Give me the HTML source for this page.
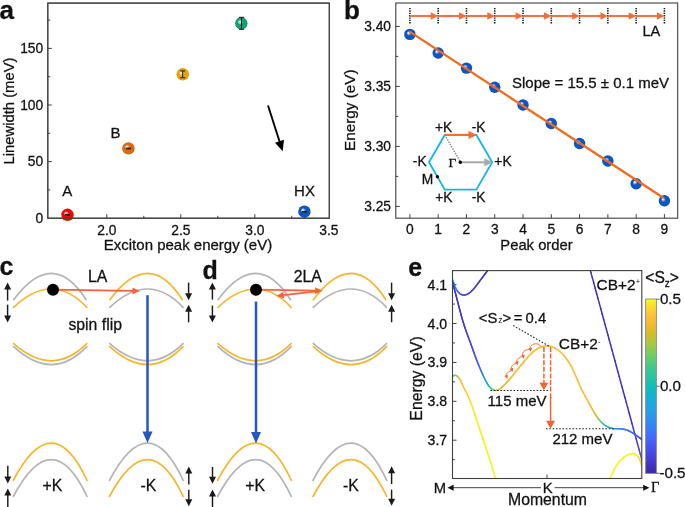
<!DOCTYPE html>
<html lang="en"><head><meta charset="utf-8"><title>Figure</title>
<style>
html,body{margin:0;padding:0;background:#fff;}
body{width:685px;height:507px;overflow:hidden;font-family:'Liberation Sans', Arial, Helvetica, sans-serif;}
svg{display:block;}
text{fill:#111;stroke:#111;stroke-width:0.28px;}
</style></head><body>
<svg width="685" height="507" viewBox="0 0 685 507">
<rect width="685" height="507" fill="#fff"/>
<defs>
<radialGradient id="gR" cx="0.5" cy="0.5" r="0.5" fx="0.35" fy="0.35"><stop offset="0" stop-color="#ffffff"/><stop offset="0.05" stop-color="#ffffff" stop-opacity="1"/><stop offset="0.42" stop-color="#ff0000"/><stop offset="0.85" stop-color="#ff0000"/><stop offset="1" stop-color="#e80000"/></radialGradient>
<radialGradient id="gO" cx="0.5" cy="0.5" r="0.5" fx="0.35" fy="0.35"><stop offset="0" stop-color="#ffffff"/><stop offset="0.05" stop-color="#ffffff" stop-opacity="1"/><stop offset="0.42" stop-color="#d96a10"/><stop offset="0.85" stop-color="#d96a10"/><stop offset="1" stop-color="#c05a08"/></radialGradient>
<radialGradient id="gY" cx="0.5" cy="0.5" r="0.5" fx="0.35" fy="0.35"><stop offset="0" stop-color="#ffffff"/><stop offset="0.05" stop-color="#ffffff" stop-opacity="1"/><stop offset="0.42" stop-color="#e9a204"/><stop offset="0.85" stop-color="#e9a204"/><stop offset="1" stop-color="#d89200"/></radialGradient>
<radialGradient id="gG" cx="0.5" cy="0.5" r="0.5" fx="0.35" fy="0.35"><stop offset="0" stop-color="#ffffff"/><stop offset="0.05" stop-color="#ffffff" stop-opacity="1"/><stop offset="0.42" stop-color="#10a272"/><stop offset="0.85" stop-color="#10a272"/><stop offset="1" stop-color="#0a8e62"/></radialGradient>
<radialGradient id="gB" cx="0.5" cy="0.5" r="0.5" fx="0.35" fy="0.35"><stop offset="0" stop-color="#ffffff"/><stop offset="0.05" stop-color="#ffffff" stop-opacity="1"/><stop offset="0.42" stop-color="#0a56c6"/><stop offset="0.85" stop-color="#0a56c6"/><stop offset="1" stop-color="#0848ae"/></radialGradient>
<linearGradient id="cbar" x1="0" y1="1" x2="0" y2="0">
<stop offset="0.0000" stop-color="#3e26a8"/>
<stop offset="0.0500" stop-color="#4433c4"/>
<stop offset="0.1000" stop-color="#4743dc"/>
<stop offset="0.1500" stop-color="#4853f0"/>
<stop offset="0.2000" stop-color="#4367fd"/>
<stop offset="0.2500" stop-color="#377cfc"/>
<stop offset="0.3000" stop-color="#2e8cf3"/>
<stop offset="0.3500" stop-color="#269de8"/>
<stop offset="0.4000" stop-color="#1caadf"/>
<stop offset="0.4500" stop-color="#0fb4cf"/>
<stop offset="0.5000" stop-color="#12beb9"/>
<stop offset="0.5500" stop-color="#27c4a5"/>
<stop offset="0.6000" stop-color="#3bc892"/>
<stop offset="0.6500" stop-color="#5acb76"/>
<stop offset="0.7000" stop-color="#81cc59"/>
<stop offset="0.7500" stop-color="#adc73f"/>
<stop offset="0.8000" stop-color="#d2bd27"/>
<stop offset="0.8500" stop-color="#f1b930"/>
<stop offset="0.9000" stop-color="#fdbe3d"/>
<stop offset="0.9500" stop-color="#fbd72e"/>
<stop offset="1.0000" stop-color="#f9fb15"/>
</linearGradient>
</defs>
<rect x="47.8" y="3.1" width="281.5" height="215.1" fill="none" stroke="#404040" stroke-width="1.1"/>
<text x="-0.5" y="19.2" font-size="26" text-anchor="start" font-family='"Liberation Sans", Arial, Helvetica, sans-serif' font-weight="bold">a</text>
<text x="43.2" y="223" font-size="13.8" text-anchor="end" font-family='"Liberation Sans", Arial, Helvetica, sans-serif'>0</text>
<line x1="47.8" y1="161.6" x2="51.8" y2="161.6" stroke="#404040" stroke-width="1"/>
<text x="43.2" y="166.4" font-size="13.8" text-anchor="end" font-family='"Liberation Sans", Arial, Helvetica, sans-serif'>50</text>
<line x1="47.8" y1="105" x2="51.8" y2="105" stroke="#404040" stroke-width="1"/>
<text x="43.2" y="109.8" font-size="13.8" text-anchor="end" font-family='"Liberation Sans", Arial, Helvetica, sans-serif'>100</text>
<line x1="47.8" y1="48.4" x2="51.8" y2="48.4" stroke="#404040" stroke-width="1"/>
<text x="43.2" y="53.2" font-size="13.8" text-anchor="end" font-family='"Liberation Sans", Arial, Helvetica, sans-serif'>150</text>
<line x1="47.8" y1="189.9" x2="50.199999999999996" y2="189.9" stroke="#404040" stroke-width="1"/>
<line x1="47.8" y1="133.3" x2="50.199999999999996" y2="133.3" stroke="#404040" stroke-width="1"/>
<line x1="47.8" y1="76.7" x2="50.199999999999996" y2="76.7" stroke="#404040" stroke-width="1"/>
<line x1="47.8" y1="20.1" x2="50.199999999999996" y2="20.1" stroke="#404040" stroke-width="1"/>
<line x1="106.8" y1="218.2" x2="106.8" y2="214.2" stroke="#404040" stroke-width="1"/>
<text x="106.8" y="234.5" font-size="13.8" text-anchor="middle" font-family='"Liberation Sans", Arial, Helvetica, sans-serif'>2.0</text>
<line x1="180.8" y1="218.2" x2="180.8" y2="214.2" stroke="#404040" stroke-width="1"/>
<text x="180.8" y="234.5" font-size="13.8" text-anchor="middle" font-family='"Liberation Sans", Arial, Helvetica, sans-serif'>2.5</text>
<line x1="254.8" y1="218.2" x2="254.8" y2="214.2" stroke="#404040" stroke-width="1"/>
<text x="254.8" y="234.5" font-size="13.8" text-anchor="middle" font-family='"Liberation Sans", Arial, Helvetica, sans-serif'>3.0</text>
<text x="328.8" y="234.5" font-size="13.8" text-anchor="middle" font-family='"Liberation Sans", Arial, Helvetica, sans-serif'>3.5</text>
<line x1="69.8" y1="218.2" x2="69.8" y2="215.79999999999998" stroke="#404040" stroke-width="1"/>
<line x1="143.8" y1="218.2" x2="143.8" y2="215.79999999999998" stroke="#404040" stroke-width="1"/>
<line x1="217.8" y1="218.2" x2="217.8" y2="215.79999999999998" stroke="#404040" stroke-width="1"/>
<line x1="291.8" y1="218.2" x2="291.8" y2="215.79999999999998" stroke="#404040" stroke-width="1"/>
<text transform="translate(14.2 111) rotate(-90)" font-size="14.8" text-anchor="middle" font-family='"Liberation Sans", Arial, Helvetica, sans-serif'>Linewidth (meV)</text>
<text x="188" y="250" font-size="15.0" text-anchor="middle" font-family='"Liberation Sans", Arial, Helvetica, sans-serif'>Exciton peak energy (eV)</text>
<circle cx="67.5" cy="214.8" r="6.2" fill="url(#gR)"/>
<circle cx="128.4" cy="148.4" r="6.2" fill="url(#gO)"/>
<circle cx="182.75" cy="74.3" r="6.2" fill="url(#gY)"/>
<circle cx="241.3" cy="23.3" r="6.2" fill="url(#gG)"/>
<circle cx="304.4" cy="211.7" r="6.2" fill="url(#gB)"/>
<path d="M67.5 214.45V215.15M65 214.45H70M65 215.15H70" stroke="#1a1a1a" stroke-width="1.0" fill="none"/>
<path d="M128.4 148.1V148.9M125.9 148.1H130.9M125.9 148.9H130.9" stroke="#1a1a1a" stroke-width="1.0" fill="none"/>
<path d="M182.7 70.9V77.7M180.2 70.9H185.2M180.2 77.7H185.2" stroke="#1a1a1a" stroke-width="1.0" fill="none"/>
<path d="M241.5 17.3V29.3M238.9 17.3H244.1M238.9 29.3H244.1" stroke="#1a1a1a" stroke-width="1.0" fill="none"/>
<path d="M304.5 211.5V212.1M302 211.5H307M302 212.1H307" stroke="#1a1a1a" stroke-width="1.0" fill="none"/>
<rect x="47.8" y="3.1" width="281.5" height="215.1" fill="none" stroke="#404040" stroke-width="1.1"/>
<text x="67.3" y="195.7" font-size="15" text-anchor="middle" font-family='"Liberation Sans", Arial, Helvetica, sans-serif'>A</text>
<text x="115.5" y="137.6" font-size="15" text-anchor="middle" font-family='"Liberation Sans", Arial, Helvetica, sans-serif'>B</text>
<text x="304.5" y="195.7" font-size="15" text-anchor="middle" font-family='"Liberation Sans", Arial, Helvetica, sans-serif'>HX</text>
<line x1="268" y1="105.5" x2="279.64" y2="141.68" stroke="#000" stroke-width="1.9"/>
<polygon points="282.7,151.2 275.01,142.64 283.96,139.77" fill="#000"/>
<rect x="395.8" y="3.0" width="281.9" height="215.2" fill="none" stroke="#404040" stroke-width="1.1"/>
<text x="344" y="19.2" font-size="26" text-anchor="start" font-family='"Liberation Sans", Arial, Helvetica, sans-serif' font-weight="bold">b</text>
<line x1="395.8" y1="26.4" x2="399.8" y2="26.4" stroke="#404040" stroke-width="1"/>
<text x="391" y="31.2" font-size="13.8" text-anchor="end" font-family='"Liberation Sans", Arial, Helvetica, sans-serif'>3.40</text>
<line x1="395.8" y1="86.4" x2="399.8" y2="86.4" stroke="#404040" stroke-width="1"/>
<text x="391" y="91.2" font-size="13.8" text-anchor="end" font-family='"Liberation Sans", Arial, Helvetica, sans-serif'>3.35</text>
<line x1="395.8" y1="146.4" x2="399.8" y2="146.4" stroke="#404040" stroke-width="1"/>
<text x="391" y="151.2" font-size="13.8" text-anchor="end" font-family='"Liberation Sans", Arial, Helvetica, sans-serif'>3.30</text>
<line x1="395.8" y1="206.4" x2="399.8" y2="206.4" stroke="#404040" stroke-width="1"/>
<text x="391" y="211.2" font-size="13.8" text-anchor="end" font-family='"Liberation Sans", Arial, Helvetica, sans-serif'>3.25</text>
<line x1="395.8" y1="56.4" x2="398.2" y2="56.4" stroke="#404040" stroke-width="1"/>
<line x1="395.8" y1="116.4" x2="398.2" y2="116.4" stroke="#404040" stroke-width="1"/>
<line x1="395.8" y1="176.4" x2="398.2" y2="176.4" stroke="#404040" stroke-width="1"/>
<line x1="409.9" y1="218.2" x2="409.9" y2="214.2" stroke="#404040" stroke-width="1"/>
<text x="409.9" y="234.3" font-size="13.8" text-anchor="middle" font-family='"Liberation Sans", Arial, Helvetica, sans-serif'>0</text>
<line x1="438.18" y1="218.2" x2="438.18" y2="214.2" stroke="#404040" stroke-width="1"/>
<text x="438.18" y="234.3" font-size="13.8" text-anchor="middle" font-family='"Liberation Sans", Arial, Helvetica, sans-serif'>1</text>
<line x1="466.46" y1="218.2" x2="466.46" y2="214.2" stroke="#404040" stroke-width="1"/>
<text x="466.46" y="234.3" font-size="13.8" text-anchor="middle" font-family='"Liberation Sans", Arial, Helvetica, sans-serif'>2</text>
<line x1="494.74" y1="218.2" x2="494.74" y2="214.2" stroke="#404040" stroke-width="1"/>
<text x="494.74" y="234.3" font-size="13.8" text-anchor="middle" font-family='"Liberation Sans", Arial, Helvetica, sans-serif'>3</text>
<line x1="523.02" y1="218.2" x2="523.02" y2="214.2" stroke="#404040" stroke-width="1"/>
<text x="523.02" y="234.3" font-size="13.8" text-anchor="middle" font-family='"Liberation Sans", Arial, Helvetica, sans-serif'>4</text>
<line x1="551.3" y1="218.2" x2="551.3" y2="214.2" stroke="#404040" stroke-width="1"/>
<text x="551.3" y="234.3" font-size="13.8" text-anchor="middle" font-family='"Liberation Sans", Arial, Helvetica, sans-serif'>5</text>
<line x1="579.58" y1="218.2" x2="579.58" y2="214.2" stroke="#404040" stroke-width="1"/>
<text x="579.58" y="234.3" font-size="13.8" text-anchor="middle" font-family='"Liberation Sans", Arial, Helvetica, sans-serif'>6</text>
<line x1="607.86" y1="218.2" x2="607.86" y2="214.2" stroke="#404040" stroke-width="1"/>
<text x="607.86" y="234.3" font-size="13.8" text-anchor="middle" font-family='"Liberation Sans", Arial, Helvetica, sans-serif'>7</text>
<line x1="636.14" y1="218.2" x2="636.14" y2="214.2" stroke="#404040" stroke-width="1"/>
<text x="636.14" y="234.3" font-size="13.8" text-anchor="middle" font-family='"Liberation Sans", Arial, Helvetica, sans-serif'>8</text>
<line x1="664.42" y1="218.2" x2="664.42" y2="214.2" stroke="#404040" stroke-width="1"/>
<text x="664.42" y="234.3" font-size="13.8" text-anchor="middle" font-family='"Liberation Sans", Arial, Helvetica, sans-serif'>9</text>
<text transform="translate(354.8 110.2) rotate(-90)" font-size="15.3" text-anchor="middle" font-family='"Liberation Sans", Arial, Helvetica, sans-serif'>Energy (eV)</text>
<text x="536.5" y="250" font-size="14.8" text-anchor="middle" font-family='"Liberation Sans", Arial, Helvetica, sans-serif'>Peak order</text>
<line x1="409.9" y1="8" x2="409.9" y2="24.2" stroke="#1a1a1a" stroke-width="1.6" stroke-dasharray="1.35 1.0"/>
<line x1="438.18" y1="8" x2="438.18" y2="24.2" stroke="#1a1a1a" stroke-width="1.6" stroke-dasharray="1.35 1.0"/>
<line x1="466.46" y1="8" x2="466.46" y2="24.2" stroke="#1a1a1a" stroke-width="1.6" stroke-dasharray="1.35 1.0"/>
<line x1="494.74" y1="8" x2="494.74" y2="24.2" stroke="#1a1a1a" stroke-width="1.6" stroke-dasharray="1.35 1.0"/>
<line x1="523.02" y1="8" x2="523.02" y2="24.2" stroke="#1a1a1a" stroke-width="1.6" stroke-dasharray="1.35 1.0"/>
<line x1="551.3" y1="8" x2="551.3" y2="24.2" stroke="#1a1a1a" stroke-width="1.6" stroke-dasharray="1.35 1.0"/>
<line x1="579.58" y1="8" x2="579.58" y2="24.2" stroke="#1a1a1a" stroke-width="1.6" stroke-dasharray="1.35 1.0"/>
<line x1="607.86" y1="8" x2="607.86" y2="24.2" stroke="#1a1a1a" stroke-width="1.6" stroke-dasharray="1.35 1.0"/>
<line x1="636.14" y1="8" x2="636.14" y2="24.2" stroke="#1a1a1a" stroke-width="1.6" stroke-dasharray="1.35 1.0"/>
<line x1="664.42" y1="8" x2="664.42" y2="24.2" stroke="#1a1a1a" stroke-width="1.6" stroke-dasharray="1.35 1.0"/>
<line x1="409.9" y1="16" x2="431.28" y2="16" stroke="#f96a34" stroke-width="1.9"/>
<polygon points="438.18,16 430.78,19.8 430.78,12.2" fill="#f96a34"/>
<line x1="438.18" y1="16" x2="459.56" y2="16" stroke="#f96a34" stroke-width="1.9"/>
<polygon points="466.46,16 459.06,19.8 459.06,12.2" fill="#f96a34"/>
<line x1="466.46" y1="16" x2="487.84" y2="16" stroke="#f96a34" stroke-width="1.9"/>
<polygon points="494.74,16 487.34,19.8 487.34,12.2" fill="#f96a34"/>
<line x1="494.74" y1="16" x2="516.12" y2="16" stroke="#f96a34" stroke-width="1.9"/>
<polygon points="523.02,16 515.62,19.8 515.62,12.2" fill="#f96a34"/>
<line x1="523.02" y1="16" x2="544.4" y2="16" stroke="#f96a34" stroke-width="1.9"/>
<polygon points="551.3,16 543.9,19.8 543.9,12.2" fill="#f96a34"/>
<line x1="551.3" y1="16" x2="572.68" y2="16" stroke="#f96a34" stroke-width="1.9"/>
<polygon points="579.58,16 572.18,19.8 572.18,12.2" fill="#f96a34"/>
<line x1="579.58" y1="16" x2="600.96" y2="16" stroke="#f96a34" stroke-width="1.9"/>
<polygon points="607.86,16 600.46,19.8 600.46,12.2" fill="#f96a34"/>
<line x1="607.86" y1="16" x2="629.24" y2="16" stroke="#f96a34" stroke-width="1.9"/>
<polygon points="636.14,16 628.74,19.8 628.74,12.2" fill="#f96a34"/>
<line x1="636.14" y1="16" x2="657.52" y2="16" stroke="#f96a34" stroke-width="1.9"/>
<polygon points="664.42,16 657.02,19.8 657.02,12.2" fill="#f96a34"/>
<text x="651.4" y="36" font-size="14.6" text-anchor="middle" font-family='"Liberation Sans", Arial, Helvetica, sans-serif'>LA</text>
<text x="590.5" y="88" font-size="15" text-anchor="middle" font-family='"Liberation Sans", Arial, Helvetica, sans-serif'>Slope = 15.5 ± 0.1 meV</text>
<circle cx="409.9" cy="34.4" r="5.7" fill="url(#gB)"/>
<circle cx="438.18" cy="53" r="5.7" fill="url(#gB)"/>
<circle cx="466.46" cy="68.1" r="5.7" fill="url(#gB)"/>
<circle cx="494.74" cy="87.2" r="5.7" fill="url(#gB)"/>
<circle cx="523.02" cy="105" r="5.7" fill="url(#gB)"/>
<circle cx="551.3" cy="123.5" r="5.7" fill="url(#gB)"/>
<circle cx="579.58" cy="143.5" r="5.7" fill="url(#gB)"/>
<circle cx="607.86" cy="161" r="5.7" fill="url(#gB)"/>
<circle cx="636.14" cy="183.7" r="5.7" fill="url(#gB)"/>
<circle cx="664.42" cy="200.7" r="5.7" fill="url(#gB)"/>
<line x1="409.6" y1="31.6" x2="663.7" y2="198" stroke="#f26a1c" stroke-width="2.3" stroke-linecap="butt"/>
<polygon points="492.2,162.3 476.4,134.93 444.8,134.93 429,162.3 444.8,189.67 476.4,189.67" fill="none" stroke="#12b6ee" stroke-width="1.8"/>
<line x1="444.8" y1="134.93" x2="460.6" y2="162.3" stroke="#8a8a8a" stroke-width="1.5" stroke-dasharray="1.4 1.2"/>
<line x1="460.6" y1="162.3" x2="484.8" y2="162.3" stroke="#a8a8a8" stroke-width="2.0"/>
<polygon points="492.7,162.3 484.3,166.3 484.3,158.3" fill="#a8a8a8"/>
<line x1="444.8" y1="134.93" x2="469" y2="134.93" stroke="#f96a34" stroke-width="2.2"/>
<polygon points="476.9,134.93 468.5,138.93 468.5,130.93" fill="#f96a34"/>
<circle cx="460.3" cy="162.3" r="1.7" fill="#000"/>
<circle cx="437.4" cy="176.8" r="1.7" fill="#000"/>
<text x="443.6" y="132.2" font-size="13.8" text-anchor="middle" font-family='"Liberation Sans", Arial, Helvetica, sans-serif'>+K</text>
<text x="478.6" y="132.2" font-size="13.8" text-anchor="middle" font-family='"Liberation Sans", Arial, Helvetica, sans-serif'>-K</text>
<text x="419.7" y="166.4" font-size="13.8" text-anchor="middle" font-family='"Liberation Sans", Arial, Helvetica, sans-serif'>-K</text>
<text x="503" y="166.4" font-size="13.8" text-anchor="middle" font-family='"Liberation Sans", Arial, Helvetica, sans-serif'>+K</text>
<text x="443.8" y="202.4" font-size="13.8" text-anchor="middle" font-family='"Liberation Sans", Arial, Helvetica, sans-serif'>+K</text>
<text x="478.6" y="202.4" font-size="13.8" text-anchor="middle" font-family='"Liberation Sans", Arial, Helvetica, sans-serif'>-K</text>
<text x="427.6" y="183.8" font-size="13.8" text-anchor="middle" font-family='"Liberation Sans", Arial, Helvetica, sans-serif'>M</text>
<text x="452.3" y="167" font-size="13.5" text-anchor="middle" font-family='"Liberation Serif", "Times New Roman", serif' stroke="none">Γ</text>
<text x="-0.6" y="275.4" font-size="25" text-anchor="start" font-family='"Liberation Sans", Arial, Helvetica, sans-serif' font-weight="bold">c</text>
<text x="202.6" y="278.6" font-size="25" text-anchor="start" font-family='"Liberation Sans", Arial, Helvetica, sans-serif' font-weight="bold">d</text>
<path d="M13.1 307.8Q52.4 270.2 87.3 307.8" fill="none" stroke="#f6b62c" stroke-width="1.7"/>
<path d="M13.3 300.2Q52.7 246.4 86.5 300.2" fill="none" stroke="#b4b4b4" stroke-width="1.7"/>
<path d="M13.1 346.2Q52.4 383 87.3 346.2" fill="none" stroke="#b4b4b4" stroke-width="1.7"/>
<path d="M13.1 343.2Q52.4 378.4 87.3 343.2" fill="none" stroke="#f6b62c" stroke-width="1.7"/>
<path d="M13 497Q52.45 422.2 87.3 497" fill="none" stroke="#b4b4b4" stroke-width="1.7"/>
<path d="M13 481Q52.45 405.4 87.3 481" fill="none" stroke="#f6b62c" stroke-width="1.7"/>
<path d="M109.3 307.8Q148.6 270.2 183.5 307.8" fill="none" stroke="#b4b4b4" stroke-width="1.7"/>
<path d="M109.5 300.2Q148.9 246.4 182.7 300.2" fill="none" stroke="#f6b62c" stroke-width="1.7"/>
<path d="M109.3 346.2Q148.6 383 183.5 346.2" fill="none" stroke="#f6b62c" stroke-width="1.7"/>
<path d="M109.3 343.2Q148.6 378.4 183.5 343.2" fill="none" stroke="#b4b4b4" stroke-width="1.7"/>
<path d="M109.2 497Q148.65 422.2 183.5 497" fill="none" stroke="#f6b62c" stroke-width="1.7"/>
<path d="M109.2 481Q148.65 405.4 183.5 481" fill="none" stroke="#b4b4b4" stroke-width="1.7"/>
<path d="M217.4 307.8Q256.7 270.2 291.6 307.8" fill="none" stroke="#f6b62c" stroke-width="1.7"/>
<path d="M217.6 300.2Q257 246.4 290.8 300.2" fill="none" stroke="#b4b4b4" stroke-width="1.7"/>
<path d="M217.4 346.2Q256.7 383 291.6 346.2" fill="none" stroke="#b4b4b4" stroke-width="1.7"/>
<path d="M217.4 343.2Q256.7 378.4 291.6 343.2" fill="none" stroke="#f6b62c" stroke-width="1.7"/>
<path d="M217.3 497Q256.75 422.2 291.6 497" fill="none" stroke="#b4b4b4" stroke-width="1.7"/>
<path d="M217.3 481Q256.75 405.4 291.6 481" fill="none" stroke="#f6b62c" stroke-width="1.7"/>
<path d="M312.8 307.8Q352.1 270.2 387 307.8" fill="none" stroke="#b4b4b4" stroke-width="1.7"/>
<path d="M313 300.2Q352.4 246.4 386.2 300.2" fill="none" stroke="#f6b62c" stroke-width="1.7"/>
<path d="M312.8 346.2Q352.1 383 387 346.2" fill="none" stroke="#f6b62c" stroke-width="1.7"/>
<path d="M312.8 343.2Q352.1 378.4 387 343.2" fill="none" stroke="#b4b4b4" stroke-width="1.7"/>
<path d="M312.7 497Q352.15 422.2 387 497" fill="none" stroke="#f6b62c" stroke-width="1.7"/>
<path d="M312.7 481Q352.15 405.4 387 481" fill="none" stroke="#b4b4b4" stroke-width="1.7"/>
<line x1="7.6" y1="300.6" x2="7.6" y2="288.9" stroke="#1a1a1a" stroke-width="1.45"/>
<polygon points="7.6,282.4 11.1,289.4 4.1,289.4" fill="#1a1a1a"/>
<line x1="7.6" y1="304.6" x2="7.6" y2="316" stroke="#1a1a1a" stroke-width="1.45"/>
<polygon points="7.6,322.5 4.1,315.5 11.1,315.5" fill="#1a1a1a"/>

<line x1="188.6" y1="282.6" x2="188.6" y2="293.7" stroke="#1a1a1a" stroke-width="1.45"/>
<polygon points="188.6,300.2 185.1,293.2 192.1,293.2" fill="#1a1a1a"/>
<line x1="188.6" y1="322.3" x2="188.6" y2="311.2" stroke="#1a1a1a" stroke-width="1.45"/>
<polygon points="188.6,304.7 192.1,311.7 185.1,311.7" fill="#1a1a1a"/>
<line x1="212.4" y1="299.6" x2="212.4" y2="288.9" stroke="#1a1a1a" stroke-width="1.45"/>
<polygon points="212.4,282.4 215.9,289.4 208.9,289.4" fill="#1a1a1a"/>
<line x1="212.4" y1="305.6" x2="212.4" y2="315.9" stroke="#1a1a1a" stroke-width="1.45"/>
<polygon points="212.4,322.4 208.9,315.4 215.9,315.4" fill="#1a1a1a"/>
<line x1="391.6" y1="282.6" x2="391.6" y2="293.7" stroke="#1a1a1a" stroke-width="1.45"/>
<polygon points="391.6,300.2 388.1,293.2 395.1,293.2" fill="#1a1a1a"/>
<line x1="391.6" y1="322.3" x2="391.6" y2="311.2" stroke="#1a1a1a" stroke-width="1.45"/>
<polygon points="391.6,304.7 395.1,311.7 388.1,311.7" fill="#1a1a1a"/>
<line x1="7.8" y1="465.8" x2="7.8" y2="477.1" stroke="#1a1a1a" stroke-width="1.45"/>
<polygon points="7.8,483.6 4.3,476.6 11.3,476.6" fill="#1a1a1a"/>
<line x1="7.8" y1="510" x2="7.8" y2="495" stroke="#1a1a1a" stroke-width="1.45"/>
<polygon points="7.8,488.5 11.3,495.5 4.3,495.5" fill="#1a1a1a"/>
<line x1="188.8" y1="484.5" x2="188.8" y2="473.1" stroke="#1a1a1a" stroke-width="1.45"/>
<polygon points="188.8,466.6 192.3,473.6 185.3,473.6" fill="#1a1a1a"/>
<line x1="188.8" y1="489.8" x2="188.8" y2="499.7" stroke="#1a1a1a" stroke-width="1.45"/>
<polygon points="188.8,506.2 185.3,499.2 192.3,499.2" fill="#1a1a1a"/>
<line x1="212.5" y1="467" x2="212.5" y2="477.3" stroke="#1a1a1a" stroke-width="1.45"/>
<polygon points="212.5,483.8 209,476.8 216,476.8" fill="#1a1a1a"/>
<line x1="212.5" y1="510" x2="212.5" y2="496" stroke="#1a1a1a" stroke-width="1.45"/>
<polygon points="212.5,489.5 216,496.5 209,496.5" fill="#1a1a1a"/>
<line x1="391.6" y1="484" x2="391.6" y2="472.7" stroke="#1a1a1a" stroke-width="1.45"/>
<polygon points="391.6,466.2 395.1,473.2 388.1,473.2" fill="#1a1a1a"/>
<line x1="391.6" y1="489.6" x2="391.6" y2="499.3" stroke="#1a1a1a" stroke-width="1.45"/>
<polygon points="391.6,505.8 388.1,498.8 395.1,498.8" fill="#1a1a1a"/>
<line x1="147.5" y1="295.2" x2="147.5" y2="432" stroke="#2456c4" stroke-width="2.5"/>
<polygon points="147.5,443 142.5,431.5 152.5,431.5" fill="#2456c4"/>
<line x1="256" y1="301.5" x2="256" y2="432.4" stroke="#2456c4" stroke-width="2.5"/>
<polygon points="256,443.4 251,431.9 261,431.9" fill="#2456c4"/>
<line x1="53" y1="289.6" x2="133" y2="290.8" stroke="#f8623a" stroke-width="1.7"/>
<polygon points="140,290.9 132.45,294.19 132.55,287.39" fill="#f8623a"/>
<line x1="256" y1="289.6" x2="315.6" y2="290.58" stroke="#f8623a" stroke-width="1.7"/>
<polygon points="322.6,290.7 315.04,293.98 315.16,287.18" fill="#f8623a"/>
<line x1="321" y1="290.9" x2="283.25" y2="295.21" stroke="#f8623a" stroke-width="1.7"/>
<polygon points="276.3,296 283.37,291.77 284.14,298.53" fill="#f8623a"/>
<circle cx="53" cy="289.7" r="6" fill="#000"/>
<circle cx="256" cy="289.7" r="6" fill="#000"/>
<text x="97.7" y="282" font-size="15.8" text-anchor="middle" font-family='"Liberation Sans", Arial, Helvetica, sans-serif'>LA</text>
<text x="95.2" y="330" font-size="15.8" text-anchor="middle" font-family='"Liberation Sans", Arial, Helvetica, sans-serif'>spin flip</text>
<text x="307.8" y="282.4" font-size="15.8" text-anchor="middle" font-family='"Liberation Sans", Arial, Helvetica, sans-serif'>2LA</text>
<text x="52.5" y="491.4" font-size="15.8" text-anchor="middle" font-family='"Liberation Sans", Arial, Helvetica, sans-serif'>+K</text>
<text x="148.3" y="491.4" font-size="15.8" text-anchor="middle" font-family='"Liberation Sans", Arial, Helvetica, sans-serif'>-K</text>
<text x="255.2" y="491" font-size="15.8" text-anchor="middle" font-family='"Liberation Sans", Arial, Helvetica, sans-serif'>+K</text>
<text x="351" y="491" font-size="15.8" text-anchor="middle" font-family='"Liberation Sans", Arial, Helvetica, sans-serif'>-K</text>
<clipPath id="ce"><rect x="452.5" y="270.6" width="189.3" height="207.9"/></clipPath>
<text x="408.3" y="275.5" font-size="25" text-anchor="start" font-family='"Liberation Sans", Arial, Helvetica, sans-serif' font-weight="bold">e</text>
<line x1="452.5" y1="284.6" x2="456.5" y2="284.6" stroke="#404040" stroke-width="1"/>
<text x="447.2" y="289.6" font-size="14.1" text-anchor="end" font-family='"Liberation Sans", Arial, Helvetica, sans-serif'>4.1</text>
<line x1="452.5" y1="323.5" x2="456.5" y2="323.5" stroke="#404040" stroke-width="1"/>
<text x="447.2" y="328.5" font-size="14.1" text-anchor="end" font-family='"Liberation Sans", Arial, Helvetica, sans-serif'>4.0</text>
<line x1="452.5" y1="362.4" x2="456.5" y2="362.4" stroke="#404040" stroke-width="1"/>
<text x="447.2" y="367.4" font-size="14.1" text-anchor="end" font-family='"Liberation Sans", Arial, Helvetica, sans-serif'>3.9</text>
<line x1="452.5" y1="401.3" x2="456.5" y2="401.3" stroke="#404040" stroke-width="1"/>
<text x="447.2" y="406.3" font-size="14.1" text-anchor="end" font-family='"Liberation Sans", Arial, Helvetica, sans-serif'>3.8</text>
<line x1="452.5" y1="440.2" x2="456.5" y2="440.2" stroke="#404040" stroke-width="1"/>
<text x="447.2" y="445.2" font-size="14.1" text-anchor="end" font-family='"Liberation Sans", Arial, Helvetica, sans-serif'>3.7</text>
<line x1="452.5" y1="304.05" x2="454.9" y2="304.05" stroke="#404040" stroke-width="1"/>
<line x1="452.5" y1="342.95" x2="454.9" y2="342.95" stroke="#404040" stroke-width="1"/>
<line x1="452.5" y1="381.85" x2="454.9" y2="381.85" stroke="#404040" stroke-width="1"/>
<line x1="452.5" y1="420.75" x2="454.9" y2="420.75" stroke="#404040" stroke-width="1"/>
<line x1="452.5" y1="459.65" x2="454.9" y2="459.65" stroke="#404040" stroke-width="1"/>
<line x1="547" y1="478.5" x2="547" y2="474.5" stroke="#404040" stroke-width="1"/>
<text transform="translate(421.6 378.5) rotate(-90)" font-size="15.8" text-anchor="middle" font-family='"Liberation Sans", Arial, Helvetica, sans-serif'>Energy (eV)</text>
<g clip-path="url(#ce)" fill="none" stroke-linecap="round" stroke-width="1.5">
<path d="M452.5 279.5L452.87 280.47" stroke="#21a4e3"/>
<path d="M452.87 280.47L453.22 281.46" stroke="#23a1e5"/>
<path d="M453.22 281.46L453.56 282.45" stroke="#259ee7"/>
<path d="M453.56 282.45L453.9 283.45" stroke="#279be9"/>
<path d="M453.9 283.45L454.24 284.45" stroke="#2997ec"/>
<path d="M454.24 284.45L454.59 285.44" stroke="#2b93ef"/>
<path d="M454.59 285.44L454.97 286.43" stroke="#2d8ff1"/>
<path d="M454.97 286.43L455.38 287.39" stroke="#2f8af4"/>
<path d="M455.38 287.39L455.82 288.35" stroke="#3285f7"/>
<path d="M455.82 288.35L456.31 289.27" stroke="#3580fa"/>
<path d="M456.31 289.27L456.85 290.17" stroke="#387bfc"/>
<path d="M456.85 290.17L457.45 291.04" stroke="#3c74fc"/>
<path d="M457.45 291.04L458.12 291.88" stroke="#3f6dfd"/>
<path d="M458.12 291.88L458.86 292.67" stroke="#4367fd"/>
<path d="M458.86 292.67L459.68 293.41" stroke="#4462fa"/>
<path d="M459.68 293.41L460.57 294.05" stroke="#455df7"/>
<path d="M460.57 294.05L461.51 294.57" stroke="#4758f3"/>
<path d="M461.51 294.57L462.48 294.94" stroke="#4854f1"/>
<path d="M462.48 294.94L463.49 295.12" stroke="#4851ed"/>
<path d="M463.49 295.12L464.51 295.09" stroke="#484eea"/>
<path d="M464.51 295.09L465.53 294.89" stroke="#484be6"/>
<path d="M465.53 294.89L466.55 294.54" stroke="#4749e3"/>
<path d="M466.55 294.54L467.55 294.08" stroke="#4746e0"/>
<path d="M467.55 294.08L468.5 293.52" stroke="#4744de"/>
<path d="M468.5 293.52L469.42 292.91" stroke="#4743dc"/>
<path d="M469.42 292.91L470.28 292.26" stroke="#4742db"/>
<path d="M470.28 292.26L471.09 291.57" stroke="#4741d9"/>
<path d="M471.09 291.57L471.87 290.85" stroke="#4640d8"/>
<path d="M471.87 290.85L472.6 290.1" stroke="#4640d7"/>
<path d="M472.6 290.1L473.31 289.33" stroke="#463fd6"/>
<path d="M473.31 289.33L473.99 288.54" stroke="#463ed5"/>
<path d="M473.99 288.54L474.65 287.73" stroke="#463ed4"/>
<path d="M474.65 287.73L475.3 286.91" stroke="#463dd4"/>
<path d="M475.3 286.91L475.94 286.08" stroke="#463dd3"/>
<path d="M475.94 286.08L476.57 285.25" stroke="#463cd2"/>
<path d="M476.57 285.25L477.21 284.41" stroke="#463cd2"/>
<path d="M477.21 284.41L477.84 283.57" stroke="#463cd1"/>
<path d="M477.84 283.57L478.47 282.73" stroke="#463bd0"/>
<path d="M478.47 282.73L479.09 281.89" stroke="#453bd0"/>
<path d="M479.09 281.89L479.72 281.04" stroke="#453bd0"/>
<path d="M479.72 281.04L480.35 280.2" stroke="#453acf"/>
<path d="M480.35 280.2L480.98 279.36" stroke="#453acf"/>
<path d="M480.98 279.36L481.61 278.52" stroke="#453ace"/>
<path d="M481.61 278.52L482.24 277.68" stroke="#4539ce"/>
<path d="M482.24 277.68L482.88 276.84" stroke="#4539cd"/>
<path d="M482.88 276.84L483.51 276" stroke="#4539cc"/>
<path d="M483.51 276L484.15 275.17" stroke="#4538cc"/>
<path d="M484.15 275.17L484.79 274.33" stroke="#4538cb"/>
<path d="M484.79 274.33L485.42 273.49" stroke="#4537cb"/>
<path d="M485.42 273.49L486.05 272.65" stroke="#4537ca"/>
<path d="M486.05 272.65L486.68 271.81" stroke="#4537c9"/>
<path d="M486.68 271.81L487.3 270.96" stroke="#4536c9"/>
<path d="M487.3 270.96L487.92 270.12" stroke="#4536c9"/>
<path d="M487.92 270.12L488.53 269.26" stroke="#4536c9"/>
<path d="M488.53 269.26L489.13 268.4" stroke="#4536c9"/>
<path d="M489.13 268.4L489.73 267.54" stroke="#4536c9"/>
<path d="M489.73 267.54L490.31 266.66" stroke="#4536c9"/>
<path d="M490.31 266.66L490.89 265.78" stroke="#4536c9"/>
<path d="M490.89 265.78L491.45 264.9" stroke="#4536c9"/>
<path d="M491.45 264.9L492 264" stroke="#4536c9"/>
</g>
<g clip-path="url(#ce)" fill="none" stroke-linecap="round" stroke-width="1.5">
<path d="M588.06 262L589.48 267.2" stroke="#422eb9"/>
<path d="M589.48 267.2L590.89 272.4" stroke="#422eb9"/>
<path d="M590.89 272.4L592.3 277.6" stroke="#422eb9"/>
<path d="M592.3 277.6L593.72 282.8" stroke="#422eb9"/>
<path d="M593.72 282.8L595.13 288" stroke="#422eb9"/>
<path d="M595.13 288L596.55 293.2" stroke="#422eb9"/>
<path d="M596.55 293.2L597.96 298.4" stroke="#422eb9"/>
<path d="M597.96 298.4L599.38 303.6" stroke="#422eb9"/>
<path d="M599.38 303.6L600.79 308.8" stroke="#422eb9"/>
<path d="M600.79 308.8L602.2 314" stroke="#422eb9"/>
<path d="M602.2 314L603.62 319.2" stroke="#422eb9"/>
<path d="M603.62 319.2L605.03 324.4" stroke="#422eb9"/>
<path d="M605.03 324.4L606.45 329.6" stroke="#422eb9"/>
<path d="M606.45 329.6L607.86 334.8" stroke="#422eb9"/>
<path d="M607.86 334.8L609.28 340" stroke="#422eb9"/>
<path d="M609.28 340L610.69 345.2" stroke="#422eb9"/>
<path d="M610.69 345.2L612.11 350.4" stroke="#422eb9"/>
<path d="M612.11 350.4L613.52 355.6" stroke="#422eba"/>
<path d="M613.52 355.6L614.93 360.8" stroke="#422fbb"/>
<path d="M614.93 360.8L616.35 366" stroke="#422fbc"/>
<path d="M616.35 366L617.76 371.2" stroke="#4230bc"/>
<path d="M617.76 371.2L619.18 376.4" stroke="#4330bd"/>
<path d="M619.18 376.4L620.59 381.6" stroke="#4330be"/>
<path d="M620.59 381.6L622.01 386.8" stroke="#4331bf"/>
<path d="M622.01 386.8L623.42 392" stroke="#4331c0"/>
<path d="M623.42 392L624.84 397.2" stroke="#4331c0"/>
<path d="M624.84 397.2L626.25 402.4" stroke="#4331c1"/>
<path d="M626.25 402.4L627.66 407.6" stroke="#4332c1"/>
<path d="M627.66 407.6L629.08 412.8" stroke="#4432c2"/>
<path d="M629.08 412.8L630.49 418" stroke="#4433c3"/>
<path d="M630.49 418L631.91 423.2" stroke="#4433c4"/>
<path d="M631.91 423.2L633.32 428.4" stroke="#4435c7"/>
<path d="M633.32 428.4L634.74 433.6" stroke="#4537ca"/>
<path d="M634.74 433.6L636.15 438.8" stroke="#453acf"/>
<path d="M636.15 438.8L637.56 444" stroke="#463ed4"/>
<path d="M637.56 444L638.98 449.2" stroke="#4742db"/>
<path d="M638.98 449.2L640.39 454.4" stroke="#4747e1"/>
<path d="M640.39 454.4L641.81 459.6" stroke="#484de8"/>
<path d="M641.81 459.6L643.22 464.8" stroke="#4852ef"/>
<path d="M643.22 464.8L644.64 470" stroke="#4758f3"/>
</g>
<g clip-path="url(#ce)" fill="none" stroke-linecap="round" stroke-width="1.5">
<path d="M451 377.4L452.28 376.55" stroke="#12bdbb"/>
<path d="M452.28 376.55L453.68 375.64" stroke="#24c3a7"/>
<path d="M453.68 375.64L455.1 375.2" stroke="#43c98b"/>
<path d="M455.1 375.2L456.48 375.62" stroke="#74cc63"/>
<path d="M456.48 375.62L457.76 376.67" stroke="#a9c741"/>
<path d="M457.76 376.67L458.88 377.98" stroke="#ccbf2b"/>
<path d="M458.88 377.98L459.82 379.33" stroke="#e0bb2b"/>
<path d="M459.82 379.33L460.61 380.69" stroke="#eeb92f"/>
<path d="M460.61 380.69L461.3 382.06" stroke="#f4ba34"/>
<path d="M461.3 382.06L461.93 383.44" stroke="#f8bc38"/>
<path d="M461.93 383.44L462.54 384.82" stroke="#fbbd3b"/>
<path d="M462.54 384.82L463.17 386.2" stroke="#fdbe3d"/>
<path d="M463.17 386.2L463.83 387.59" stroke="#fdc23b"/>
<path d="M463.83 387.59L464.51 388.98" stroke="#fcc539"/>
<path d="M464.51 388.98L465.21 390.37" stroke="#fcc837"/>
<path d="M465.21 390.37L465.92 391.76" stroke="#fcca36"/>
<path d="M465.92 391.76L466.63 393.16" stroke="#fccd34"/>
<path d="M466.63 393.16L467.32 394.57" stroke="#fccf33"/>
<path d="M467.32 394.57L468 395.98" stroke="#fcd032"/>
<path d="M468 395.98L468.66 397.4" stroke="#fbd231"/>
<path d="M468.66 397.4L469.28 398.83" stroke="#fbd430"/>
<path d="M469.28 398.83L469.89 400.27" stroke="#fbd62e"/>
<path d="M469.89 400.27L470.47 401.72" stroke="#fbd92d"/>
<path d="M470.47 401.72L471.03 403.17" stroke="#fbdc2b"/>
<path d="M471.03 403.17L471.57 404.63" stroke="#fbdf29"/>
<path d="M471.57 404.63L472.09 406.1" stroke="#fae227"/>
<path d="M472.09 406.1L472.6 407.57" stroke="#fae425"/>
<path d="M472.6 407.57L473.1 409.04" stroke="#fae723"/>
<path d="M473.1 409.04L473.59 410.51" stroke="#fae922"/>
<path d="M473.59 410.51L474.07 411.99" stroke="#faeb20"/>
<path d="M474.07 411.99L474.55 413.47" stroke="#faed1f"/>
<path d="M474.55 413.47L475.02 414.95" stroke="#faee1e"/>
<path d="M475.02 414.95L475.5 416.43" stroke="#faef1d"/>
<path d="M475.5 416.43L475.97 417.91" stroke="#faf01d"/>
<path d="M475.97 417.91L476.45 419.39" stroke="#faf01c"/>
<path d="M476.45 419.39L476.93 420.87" stroke="#faf11c"/>
<path d="M476.93 420.87L477.42 422.35" stroke="#faf11c"/>
<path d="M477.42 422.35L477.91 423.83" stroke="#faf11c"/>
<path d="M477.91 423.83L478.4 425.3" stroke="#faf21c"/>
<path d="M478.4 425.3L478.89 426.78" stroke="#faf21b"/>
<path d="M478.89 426.78L479.39 428.25" stroke="#f9f21b"/>
<path d="M479.39 428.25L479.89 429.73" stroke="#f9f21b"/>
<path d="M479.89 429.73L480.38 431.2" stroke="#f9f21b"/>
<path d="M480.38 431.2L480.88 432.67" stroke="#f9f31b"/>
<path d="M480.88 432.67L481.38 434.15" stroke="#f9f31b"/>
<path d="M481.38 434.15L481.88 435.62" stroke="#f9f31b"/>
<path d="M481.88 435.62L482.38 437.09" stroke="#f9f31a"/>
<path d="M482.38 437.09L482.88 438.57" stroke="#f9f31a"/>
<path d="M482.88 438.57L483.38 440.04" stroke="#f9f31a"/>
<path d="M483.38 440.04L483.88 441.52" stroke="#f9f31a"/>
<path d="M483.88 441.52L484.38 442.99" stroke="#f9f41a"/>
<path d="M484.38 442.99L484.87 444.47" stroke="#f9f41a"/>
<path d="M484.87 444.47L485.36 445.94" stroke="#f9f41a"/>
<path d="M485.36 445.94L485.85 447.42" stroke="#f9f41a"/>
<path d="M485.85 447.42L486.34 448.9" stroke="#f9f41a"/>
<path d="M486.34 448.9L486.82 450.37" stroke="#f9f41a"/>
<path d="M486.82 450.37L487.3 451.85" stroke="#f9f41a"/>
<path d="M487.3 451.85L487.78 453.34" stroke="#f9f41a"/>
<path d="M487.78 453.34L488.26 454.82" stroke="#f9f41a"/>
<path d="M488.26 454.82L488.73 456.3" stroke="#f9f41a"/>
<path d="M488.73 456.3L489.2 457.78" stroke="#f9f41a"/>
<path d="M489.2 457.78L489.66 459.27" stroke="#f9f41a"/>
<path d="M489.66 459.27L490.13 460.75" stroke="#f9f41a"/>
<path d="M490.13 460.75L490.59 462.24" stroke="#f9f41a"/>
<path d="M490.59 462.24L491.06 463.72" stroke="#f9f41a"/>
<path d="M491.06 463.72L491.52 465.21" stroke="#f9f41a"/>
<path d="M491.52 465.21L491.98 466.69" stroke="#f9f41a"/>
<path d="M491.98 466.69L492.44 468.18" stroke="#f9f41a"/>
<path d="M492.44 468.18L492.9 469.66" stroke="#f9f41a"/>
<path d="M492.9 469.66L493.36 471.15" stroke="#f9f41a"/>
<path d="M493.36 471.15L493.82 472.64" stroke="#f9f41a"/>
<path d="M493.82 472.64L494.28 474.12" stroke="#f9f41a"/>
<path d="M494.28 474.12L494.74 475.61" stroke="#f9f41a"/>
<path d="M494.74 475.61L495.2 477.1" stroke="#f9f41a"/>
<path d="M495.2 477.1L495.66 478.58" stroke="#f9f41a"/>
<path d="M495.66 478.58L496.13 480.07" stroke="#f9f41a"/>
<path d="M496.13 480.07L496.59 481.55" stroke="#f9f41a"/>
<path d="M496.59 481.55L497.06 483.03" stroke="#f9f41a"/>
<path d="M497.06 483.03L497.53 484.52" stroke="#f9f41a"/>
<path d="M497.53 484.52L498 486" stroke="#f9f41a"/>
</g>
<g clip-path="url(#ce)" fill="none" stroke-linecap="round" stroke-width="1.5">
<path d="M607 488L607.35 486.73" stroke="#f9f41a"/>
<path d="M607.35 486.73L607.71 485.46" stroke="#f9f41a"/>
<path d="M607.71 485.46L608.09 484.2" stroke="#f9f41a"/>
<path d="M608.09 484.2L608.49 482.94" stroke="#f9f41a"/>
<path d="M608.49 482.94L608.9 481.7" stroke="#f9f41a"/>
<path d="M608.9 481.7L609.33 480.45" stroke="#f9f41a"/>
<path d="M609.33 480.45L609.79 479.22" stroke="#f9f41a"/>
<path d="M609.79 479.22L610.26 478" stroke="#f9f41a"/>
<path d="M610.26 478L610.75 476.78" stroke="#f9f41a"/>
<path d="M610.75 476.78L611.26 475.57" stroke="#f9f41a"/>
<path d="M611.26 475.57L611.79 474.37" stroke="#f9f41a"/>
<path d="M611.79 474.37L612.35 473.18" stroke="#f9f41a"/>
<path d="M612.35 473.18L612.93 472" stroke="#f9f41a"/>
<path d="M612.93 472L613.53 470.83" stroke="#f9f41a"/>
<path d="M613.53 470.83L614.15 469.66" stroke="#f9f41a"/>
<path d="M614.15 469.66L614.8 468.51" stroke="#f9f41a"/>
<path d="M614.8 468.51L615.47 467.37" stroke="#f9f41a"/>
<path d="M615.47 467.37L616.16 466.24" stroke="#f9f41a"/>
<path d="M616.16 466.24L616.89 465.12" stroke="#f9f41a"/>
<path d="M616.89 465.12L617.64 464.02" stroke="#f9f41a"/>
<path d="M617.64 464.02L618.42 462.94" stroke="#f9f41a"/>
<path d="M618.42 462.94L619.23 461.9" stroke="#f9f41a"/>
<path d="M619.23 461.9L620.08 460.89" stroke="#f9f41a"/>
<path d="M620.08 460.89L620.97 459.91" stroke="#f9f41a"/>
<path d="M620.97 459.91L621.89 458.99" stroke="#f9f41a"/>
<path d="M621.89 458.99L622.86 458.12" stroke="#f9f41a"/>
<path d="M622.86 458.12L623.87 457.3" stroke="#f9f41a"/>
<path d="M623.87 457.3L624.93 456.55" stroke="#f9f41a"/>
<path d="M624.93 456.55L626.04 455.85" stroke="#f9f41a"/>
<path d="M626.04 455.85L627.2 455.22" stroke="#f9f41a"/>
<path d="M627.2 455.22L628.42 454.64" stroke="#f9f41a"/>
<path d="M628.42 454.64L629.69 454.13" stroke="#f9f41a"/>
<path d="M629.69 454.13L631 453.73" stroke="#f9f31a"/>
<path d="M631 453.73L632.32 453.51" stroke="#f9f21b"/>
<path d="M632.32 453.51L633.61 453.54" stroke="#faf11c"/>
<path d="M633.61 453.54L634.83 453.91" stroke="#faf01d"/>
<path d="M634.83 453.91L635.96 454.58" stroke="#faee1e"/>
<path d="M635.96 454.58L637 455.47" stroke="#faeb20"/>
<path d="M637 455.47L637.92 456.49" stroke="#fae823"/>
<path d="M637.92 456.49L638.7 457.59" stroke="#fae425"/>
<path d="M638.7 457.59L639.37 458.74" stroke="#fbdf28"/>
<path d="M639.37 458.74L639.94 459.93" stroke="#fbd92c"/>
<path d="M639.94 459.93L640.42 461.16" stroke="#fbd430"/>
<path d="M640.42 461.16L640.84 462.4" stroke="#fcd032"/>
<path d="M640.84 462.4L641.21 463.67" stroke="#fccb35"/>
<path d="M641.21 463.67L641.55 464.95" stroke="#fcc738"/>
<path d="M641.55 464.95L641.88 466.23" stroke="#fdc33a"/>
<path d="M641.88 466.23L642.22 467.5" stroke="#fdbf3d"/>
<path d="M642.22 467.5L642.59 468.76" stroke="#fbbd3b"/>
<path d="M642.59 468.76L643 470" stroke="#f9bc39"/>
</g>
<g clip-path="url(#ce)" fill="none" stroke-linecap="round" stroke-width="1.5">
<path d="M451.5 279L451.82 280.07" stroke="#4433c4"/>
<path d="M451.82 280.07L452.14 281.15" stroke="#4433c4"/>
<path d="M452.14 281.15L452.45 282.22" stroke="#4433c4"/>
<path d="M452.45 282.22L452.76 283.3" stroke="#4433c4"/>
<path d="M452.76 283.3L453.06 284.37" stroke="#4433c4"/>
<path d="M453.06 284.37L453.37 285.45" stroke="#4433c4"/>
<path d="M453.37 285.45L453.67 286.53" stroke="#4433c4"/>
<path d="M453.67 286.53L453.96 287.61" stroke="#4433c4"/>
<path d="M453.96 287.61L454.26 288.69" stroke="#4433c5"/>
<path d="M454.26 288.69L454.55 289.77" stroke="#4434c5"/>
<path d="M454.55 289.77L454.84 290.85" stroke="#4434c5"/>
<path d="M454.84 290.85L455.13 291.93" stroke="#4434c5"/>
<path d="M455.13 291.93L455.41 293.01" stroke="#4434c6"/>
<path d="M455.41 293.01L455.7 294.1" stroke="#4434c6"/>
<path d="M455.7 294.1L455.98 295.18" stroke="#4434c6"/>
<path d="M455.98 295.18L456.26 296.26" stroke="#4435c7"/>
<path d="M456.26 296.26L456.55 297.35" stroke="#4435c7"/>
<path d="M456.55 297.35L456.83 298.43" stroke="#4435c7"/>
<path d="M456.83 298.43L457.1 299.52" stroke="#4435c8"/>
<path d="M457.1 299.52L457.38 300.6" stroke="#4436c8"/>
<path d="M457.38 300.6L457.66 301.69" stroke="#4536c8"/>
<path d="M457.66 301.69L457.94 302.77" stroke="#4536c9"/>
<path d="M457.94 302.77L458.22 303.86" stroke="#4536c9"/>
<path d="M458.22 303.86L458.5 304.94" stroke="#4536c9"/>
<path d="M458.5 304.94L458.78 306.03" stroke="#4537ca"/>
<path d="M458.78 306.03L459.06 307.11" stroke="#4537ca"/>
<path d="M459.06 307.11L459.34 308.2" stroke="#4537ca"/>
<path d="M459.34 308.2L459.62 309.28" stroke="#4537ca"/>
<path d="M459.62 309.28L459.91 310.36" stroke="#4538cb"/>
<path d="M459.91 310.36L460.2 311.45" stroke="#4538cb"/>
<path d="M460.2 311.45L460.48 312.53" stroke="#4538cc"/>
<path d="M460.48 312.53L460.78 313.61" stroke="#4538cc"/>
<path d="M460.78 313.61L461.07 314.69" stroke="#4539cc"/>
<path d="M461.07 314.69L461.37 315.77" stroke="#4539cd"/>
<path d="M461.37 315.77L461.67 316.85" stroke="#4539cd"/>
<path d="M461.67 316.85L461.97 317.93" stroke="#4539cd"/>
<path d="M461.97 317.93L462.28 319.01" stroke="#453ace"/>
<path d="M462.28 319.01L462.59 320.08" stroke="#453ace"/>
<path d="M462.59 320.08L462.91 321.15" stroke="#453acf"/>
<path d="M462.91 321.15L463.23 322.23" stroke="#453acf"/>
<path d="M463.23 322.23L463.56 323.3" stroke="#453bd0"/>
<path d="M463.56 323.3L463.89 324.37" stroke="#453bd0"/>
<path d="M463.89 324.37L464.22 325.43" stroke="#463bd0"/>
<path d="M464.22 325.43L464.57 326.5" stroke="#463cd1"/>
<path d="M464.57 326.5L464.92 327.56" stroke="#463cd1"/>
<path d="M464.92 327.56L465.27 328.62" stroke="#463cd2"/>
<path d="M465.27 328.62L465.63 329.68" stroke="#463dd2"/>
<path d="M465.63 329.68L466 330.74" stroke="#463dd3"/>
<path d="M466 330.74L466.37 331.79" stroke="#463dd4"/>
<path d="M466.37 331.79L466.75 332.85" stroke="#463ed4"/>
<path d="M466.75 332.85L467.13 333.9" stroke="#463ed5"/>
<path d="M467.13 333.9L467.52 334.95" stroke="#463fd5"/>
<path d="M467.52 334.95L467.91 336" stroke="#463fd6"/>
<path d="M467.91 336L468.3 337.05" stroke="#4640d7"/>
<path d="M468.3 337.05L468.69 338.1" stroke="#4640d8"/>
<path d="M468.69 338.1L469.08 339.15" stroke="#4741d8"/>
<path d="M469.08 339.15L469.47 340.2" stroke="#4741d9"/>
<path d="M469.47 340.2L469.86 341.25" stroke="#4742da"/>
<path d="M469.86 341.25L470.24 342.3" stroke="#4742db"/>
<path d="M470.24 342.3L470.63 343.35" stroke="#4743dc"/>
<path d="M470.63 343.35L471.01 344.4" stroke="#4744dd"/>
<path d="M471.01 344.4L471.39 345.46" stroke="#4744de"/>
<path d="M471.39 345.46L471.76 346.51" stroke="#4745de"/>
<path d="M471.76 346.51L472.14 347.57" stroke="#4746df"/>
<path d="M472.14 347.57L472.51 348.62" stroke="#4747e0"/>
<path d="M472.51 348.62L472.89 349.68" stroke="#4747e2"/>
<path d="M472.89 349.68L473.26 350.73" stroke="#4748e3"/>
<path d="M473.26 350.73L473.64 351.79" stroke="#4749e4"/>
<path d="M473.64 351.79L474.01 352.84" stroke="#474ae5"/>
<path d="M474.01 352.84L474.39 353.9" stroke="#484be6"/>
<path d="M474.39 353.9L474.77 354.95" stroke="#484de8"/>
<path d="M474.77 354.95L475.16 356" stroke="#484ee9"/>
<path d="M475.16 356L475.54 357.05" stroke="#484feb"/>
<path d="M475.54 357.05L475.94 358.1" stroke="#4850ed"/>
<path d="M475.94 358.1L476.33 359.14" stroke="#4852ee"/>
<path d="M476.33 359.14L476.73 360.19" stroke="#4853f0"/>
<path d="M476.73 360.19L477.14 361.23" stroke="#4756f2"/>
<path d="M477.14 361.23L477.55 362.27" stroke="#4758f3"/>
<path d="M477.55 362.27L477.96 363.31" stroke="#465bf5"/>
<path d="M477.96 363.31L478.38 364.35" stroke="#455df7"/>
<path d="M478.38 364.35L478.8 365.39" stroke="#4560f9"/>
<path d="M478.8 365.39L479.22 366.43" stroke="#4463fb"/>
<path d="M479.22 366.43L479.65 367.46" stroke="#4366fd"/>
<path d="M479.65 367.46L480.08 368.5" stroke="#416afd"/>
<path d="M480.08 368.5L480.51 369.53" stroke="#3f6efd"/>
<path d="M480.51 369.53L480.95 370.56" stroke="#3d72fc"/>
<path d="M480.95 370.56L481.39 371.6" stroke="#3b76fc"/>
<path d="M481.39 371.6L481.84 372.63" stroke="#387afc"/>
<path d="M481.84 372.63L482.29 373.65" stroke="#367ffb"/>
<path d="M482.29 373.65L482.75 374.68" stroke="#3383f8"/>
<path d="M482.75 374.68L483.21 375.7" stroke="#3187f6"/>
<path d="M483.21 375.7L483.69 376.71" stroke="#2e8cf3"/>
<path d="M483.69 376.71L484.16 377.73" stroke="#2c91f0"/>
<path d="M484.16 377.73L484.65 378.73" stroke="#2996ed"/>
<path d="M484.65 378.73L485.15 379.73" stroke="#279ce9"/>
<path d="M485.15 379.73L485.65 380.73" stroke="#23a0e6"/>
<path d="M485.65 380.73L486.17 381.71" stroke="#20a5e3"/>
<path d="M486.17 381.71L486.7 382.69" stroke="#1caadf"/>
<path d="M486.7 382.69L487.26 383.65" stroke="#17aed9"/>
<path d="M487.26 383.65L487.85 384.59" stroke="#11b2d2"/>
<path d="M487.85 384.59L488.49 385.51" stroke="#10b7c9"/>
<path d="M488.49 385.51L489.19 386.4" stroke="#11bcbe"/>
<path d="M489.19 386.4L489.95 387.25" stroke="#19c0b2"/>
<path d="M489.95 387.25L490.79 388.07" stroke="#25c3a7"/>
<path d="M490.79 388.07L491.7 388.82" stroke="#33c69a"/>
<path d="M491.7 388.82L492.68 389.48" stroke="#48c986"/>
<path d="M492.68 389.48L493.71 389.99" stroke="#67cb6d"/>
<path d="M493.71 389.99L494.76 390.31" stroke="#88cb55"/>
<path d="M494.76 390.31L495.84 390.4" stroke="#a5c844"/>
<path d="M495.84 390.4L496.92 390.24" stroke="#b9c437"/>
<path d="M496.92 390.24L497.98 389.88" stroke="#c9bf2d"/>
<path d="M497.98 389.88L499.02 389.37" stroke="#d6bd28"/>
<path d="M499.02 389.37L500.02 388.74" stroke="#debb2b"/>
<path d="M500.02 388.74L500.96 388.06" stroke="#e4bb2c"/>
<path d="M500.96 388.06L501.84 387.34" stroke="#e8ba2d"/>
<path d="M501.84 387.34L502.69 386.6" stroke="#ebba2e"/>
<path d="M502.69 386.6L503.49 385.84" stroke="#edba2f"/>
<path d="M503.49 385.84L504.27 385.05" stroke="#efb92f"/>
<path d="M504.27 385.05L505.04 384.25" stroke="#f0b930"/>
<path d="M505.04 384.25L505.81 383.45" stroke="#f1b930"/>
<path d="M505.81 383.45L506.57 382.63" stroke="#f2b931"/>
<path d="M506.57 382.63L507.33 381.81" stroke="#f2b931"/>
<path d="M507.33 381.81L508.08 380.98" stroke="#f2ba32"/>
<path d="M508.08 380.98L508.83 380.14" stroke="#f3ba32"/>
<path d="M508.83 380.14L509.57 379.29" stroke="#f3ba32"/>
<path d="M509.57 379.29L510.31 378.45" stroke="#f3ba33"/>
<path d="M510.31 378.45L511.03 377.59" stroke="#f4ba33"/>
<path d="M511.03 377.59L511.76 376.74" stroke="#f4ba33"/>
<path d="M511.76 376.74L512.47 375.88" stroke="#f4ba34"/>
<path d="M512.47 375.88L513.18 375.01" stroke="#f5bb34"/>
<path d="M513.18 375.01L513.89 374.14" stroke="#f5bb35"/>
<path d="M513.89 374.14L514.59 373.27" stroke="#f6bb35"/>
<path d="M514.59 373.27L515.28 372.39" stroke="#f6bb35"/>
<path d="M515.28 372.39L515.97 371.51" stroke="#f6bb36"/>
<path d="M515.97 371.51L516.66 370.63" stroke="#f7bb36"/>
<path d="M516.66 370.63L517.36 369.75" stroke="#f7bc37"/>
<path d="M517.36 369.75L518.05 368.87" stroke="#f8bc37"/>
<path d="M518.05 368.87L518.74 367.99" stroke="#f8bc37"/>
<path d="M518.74 367.99L519.44 367.12" stroke="#f8bc38"/>
<path d="M519.44 367.12L520.15 366.25" stroke="#f8bc38"/>
<path d="M520.15 366.25L520.86 365.39" stroke="#f8bc38"/>
<path d="M520.86 365.39L521.57 364.52" stroke="#f8bc38"/>
<path d="M521.57 364.52L522.29 363.67" stroke="#f8bc38"/>
<path d="M522.29 363.67L523.01 362.81" stroke="#f8bc38"/>
<path d="M523.01 362.81L523.73 361.95" stroke="#f8bc38"/>
<path d="M523.73 361.95L524.45 361.09" stroke="#f8bc38"/>
<path d="M524.45 361.09L525.17 360.24" stroke="#f8bc38"/>
<path d="M525.17 360.24L525.89 359.38" stroke="#f8bc38"/>
<path d="M525.89 359.38L526.62 358.52" stroke="#f9bc38"/>
<path d="M526.62 358.52L527.35 357.67" stroke="#f9bc39"/>
<path d="M527.35 357.67L528.09 356.83" stroke="#fabd3a"/>
<path d="M528.09 356.83L528.84 356" stroke="#fabd3a"/>
<path d="M528.84 356L529.61 355.19" stroke="#fbbd3a"/>
<path d="M529.61 355.19L530.4 354.4" stroke="#fbbd3a"/>
<path d="M530.4 354.4L531.2 353.62" stroke="#fbbd3a"/>
<path d="M531.2 353.62L532.03 352.86" stroke="#fbbd3a"/>
<path d="M532.03 352.86L532.87 352.12" stroke="#fbbd3a"/>
<path d="M532.87 352.12L533.73 351.41" stroke="#fbbd3a"/>
<path d="M533.73 351.41L534.61 350.71" stroke="#fbbd3a"/>
<path d="M534.61 350.71L535.51 350.04" stroke="#fbbd3a"/>
<path d="M535.51 350.04L536.44 349.4" stroke="#fbbd3a"/>
<path d="M536.44 349.4L537.38 348.79" stroke="#fbbd3a"/>
<path d="M537.38 348.79L538.35 348.23" stroke="#fbbd3a"/>
<path d="M538.35 348.23L539.35 347.72" stroke="#fbbd3a"/>
<path d="M539.35 347.72L540.37 347.27" stroke="#fbbd3b"/>
<path d="M540.37 347.27L541.42 346.88" stroke="#fbbd3b"/>
<path d="M541.42 346.88L542.5 346.55" stroke="#fcbe3c"/>
<path d="M542.5 346.55L543.59 346.28" stroke="#fdbe3d"/>
<path d="M543.59 346.28L544.69 346.08" stroke="#fdbe3d"/>
<path d="M544.69 346.08L545.81 345.94" stroke="#fdbe3d"/>
<path d="M545.81 345.94L546.93 345.89" stroke="#fdbe3d"/>
<path d="M546.93 345.89L548.04 345.94" stroke="#fdbe3d"/>
<path d="M548.04 345.94L549.15 346.08" stroke="#fdbe3d"/>
<path d="M549.15 346.08L550.25 346.31" stroke="#fdbe3d"/>
<path d="M550.25 346.31L551.34 346.62" stroke="#fdbe3d"/>
<path d="M551.34 346.62L552.41 346.99" stroke="#fdbe3d"/>
<path d="M552.41 346.99L553.46 347.43" stroke="#fdbe3d"/>
<path d="M553.46 347.43L554.48 347.93" stroke="#fdbe3d"/>
<path d="M554.48 347.93L555.48 348.47" stroke="#fdbe3d"/>
<path d="M555.48 348.47L556.45 349.04" stroke="#fdbe3d"/>
<path d="M556.45 349.04L557.4 349.66" stroke="#fdbe3d"/>
<path d="M557.4 349.66L558.32 350.31" stroke="#fdbe3d"/>
<path d="M558.32 350.31L559.21 350.99" stroke="#fdbe3d"/>
<path d="M559.21 350.99L560.08 351.7" stroke="#fdbe3d"/>
<path d="M560.08 351.7L560.92 352.44" stroke="#fdbe3d"/>
<path d="M560.92 352.44L561.74 353.21" stroke="#fdbe3d"/>
<path d="M561.74 353.21L562.53 354.01" stroke="#fdbe3d"/>
<path d="M562.53 354.01L563.3 354.82" stroke="#fdbe3d"/>
<path d="M563.3 354.82L564.04 355.66" stroke="#fdbe3d"/>
<path d="M564.04 355.66L564.77 356.51" stroke="#fdbe3d"/>
<path d="M564.77 356.51L565.47 357.39" stroke="#fdbe3d"/>
<path d="M565.47 357.39L566.15 358.28" stroke="#fdbe3d"/>
<path d="M566.15 358.28L566.81 359.18" stroke="#fdbe3d"/>
<path d="M566.81 359.18L567.45 360.11" stroke="#fdbe3d"/>
<path d="M567.45 360.11L568.07 361.04" stroke="#fdbe3d"/>
<path d="M568.07 361.04L568.68 361.99" stroke="#fdbe3d"/>
<path d="M568.68 361.99L569.27 362.95" stroke="#fdbe3d"/>
<path d="M569.27 362.95L569.84 363.92" stroke="#fdbe3d"/>
<path d="M569.84 363.92L570.39 364.89" stroke="#fdbe3d"/>
<path d="M570.39 364.89L570.93 365.88" stroke="#fdbe3d"/>
<path d="M570.93 365.88L571.46 366.87" stroke="#fdbe3d"/>
<path d="M571.46 366.87L571.98 367.87" stroke="#fdbe3d"/>
<path d="M571.98 367.87L572.48 368.87" stroke="#fdbe3d"/>
<path d="M572.48 368.87L572.97 369.88" stroke="#fdbe3d"/>
<path d="M572.97 369.88L573.45 370.89" stroke="#fdbe3d"/>
<path d="M573.45 370.89L573.92 371.91" stroke="#fdbe3d"/>
<path d="M573.92 371.91L574.39 372.92" stroke="#fdbe3d"/>
<path d="M574.39 372.92L574.85 373.95" stroke="#fdbe3d"/>
<path d="M574.85 373.95L575.3 374.97" stroke="#fdbe3d"/>
<path d="M575.3 374.97L575.75 376" stroke="#fdbe3d"/>
<path d="M575.75 376L576.19 377.03" stroke="#fdbe3d"/>
<path d="M576.19 377.03L576.63 378.06" stroke="#fdbe3d"/>
<path d="M576.63 378.06L577.07 379.09" stroke="#fdbe3d"/>
<path d="M577.07 379.09L577.51 380.12" stroke="#fdbe3d"/>
<path d="M577.51 380.12L577.95 381.15" stroke="#fdbe3d"/>
<path d="M577.95 381.15L578.38 382.18" stroke="#fdbe3d"/>
<path d="M578.38 382.18L578.83 383.21" stroke="#fdbe3d"/>
<path d="M578.83 383.21L579.27 384.23" stroke="#fdbe3d"/>
<path d="M579.27 384.23L579.72 385.26" stroke="#fdbe3d"/>
<path d="M579.72 385.26L580.17 386.28" stroke="#fdbe3d"/>
<path d="M580.17 386.28L580.64 387.3" stroke="#fdbe3d"/>
<path d="M580.64 387.3L581.1 388.31" stroke="#fdbe3d"/>
<path d="M581.1 388.31L581.58 389.33" stroke="#fdbe3d"/>
<path d="M581.58 389.33L582.06 390.33" stroke="#fdbe3d"/>
<path d="M582.06 390.33L582.56 391.34" stroke="#fdbe3d"/>
<path d="M582.56 391.34L583.07 392.33" stroke="#fdbe3d"/>
<path d="M583.07 392.33L583.58 393.33" stroke="#fdbe3d"/>
<path d="M583.58 393.33L584.1 394.32" stroke="#fdbe3d"/>
<path d="M584.1 394.32L584.63 395.3" stroke="#fcbe3c"/>
<path d="M584.63 395.3L585.16 396.29" stroke="#fcbe3c"/>
<path d="M585.16 396.29L585.7 397.27" stroke="#fcbe3c"/>
<path d="M585.7 397.27L586.24 398.25" stroke="#fcbd3b"/>
<path d="M586.24 398.25L586.78 399.23" stroke="#fbbd3b"/>
<path d="M586.78 399.23L587.33 400.21" stroke="#fbbd3b"/>
<path d="M587.33 400.21L587.87 401.19" stroke="#fabd3a"/>
<path d="M587.87 401.19L588.42 402.17" stroke="#fabd3a"/>
<path d="M588.42 402.17L588.97 403.14" stroke="#f9bd39"/>
<path d="M588.97 403.14L589.51 404.12" stroke="#f9bc39"/>
<path d="M589.51 404.12L590.06 405.1" stroke="#f8bc38"/>
<path d="M590.06 405.1L590.6 406.08" stroke="#f8bc37"/>
<path d="M590.6 406.08L591.14 407.07" stroke="#f7bb36"/>
<path d="M591.14 407.07L591.68 408.05" stroke="#f6bb35"/>
<path d="M591.68 408.05L592.22 409.03" stroke="#f4ba34"/>
<path d="M592.22 409.03L592.76 410.01" stroke="#f3ba32"/>
<path d="M592.76 410.01L593.32 410.98" stroke="#f1b930"/>
<path d="M593.32 410.98L593.88 411.95" stroke="#ebba2e"/>
<path d="M593.88 411.95L594.45 412.91" stroke="#e6ba2d"/>
<path d="M594.45 412.91L595.03 413.87" stroke="#e0bb2b"/>
<path d="M595.03 413.87L595.62 414.82" stroke="#d9bc29"/>
<path d="M595.62 414.82L596.23 415.76" stroke="#d3bd27"/>
<path d="M596.23 415.76L596.86 416.68" stroke="#cabf2c"/>
<path d="M596.86 416.68L597.51 417.6" stroke="#bec234"/>
<path d="M597.51 417.6L598.17 418.5" stroke="#b1c63c"/>
<path d="M598.17 418.5L598.86 419.38" stroke="#a1c846"/>
<path d="M598.86 419.38L599.58 420.25" stroke="#8fca51"/>
<path d="M599.58 420.25L600.32 421.09" stroke="#7dcc5c"/>
<path d="M600.32 421.09L601.09 421.91" stroke="#6ccb68"/>
<path d="M601.09 421.91L601.89 422.7" stroke="#5ccb74"/>
<path d="M601.89 422.7L602.73 423.46" stroke="#4fca80"/>
<path d="M602.73 423.46L603.6 424.19" stroke="#43c98b"/>
<path d="M603.6 424.19L604.49 424.88" stroke="#38c794"/>
<path d="M604.49 424.88L605.42 425.53" stroke="#30c69c"/>
<path d="M605.42 425.53L606.38 426.13" stroke="#28c4a4"/>
<path d="M606.38 426.13L607.36 426.68" stroke="#20c2ac"/>
<path d="M607.36 426.68L608.38 427.17" stroke="#17c0b4"/>
<path d="M608.38 427.17L609.41 427.59" stroke="#12bcbc"/>
<path d="M609.41 427.59L610.47 427.95" stroke="#10b8c6"/>
<path d="M610.47 427.95L611.56 428.24" stroke="#0fb4cf"/>
<path d="M611.56 428.24L612.66 428.46" stroke="#15afd7"/>
<path d="M612.66 428.46L613.77 428.63" stroke="#1baade"/>
<path d="M613.77 428.63L614.89 428.74" stroke="#20a5e3"/>
<path d="M614.89 428.74L616.01 428.8" stroke="#249fe6"/>
<path d="M616.01 428.8L617.13 428.82" stroke="#279aea"/>
<path d="M617.13 428.82L618.26 428.82" stroke="#2a95ed"/>
<path d="M618.26 428.82L619.38 428.82" stroke="#2c90f1"/>
<path d="M619.38 428.82L620.49 428.84" stroke="#2e8bf3"/>
<path d="M620.49 428.84L621.61 428.91" stroke="#3187f6"/>
<path d="M621.61 428.91L622.72 429.04" stroke="#3383f8"/>
<path d="M622.72 429.04L623.83 429.23" stroke="#3580fa"/>
<path d="M623.83 429.23L624.92 429.48" stroke="#377cfc"/>
<path d="M624.92 429.48L626.01 429.78" stroke="#3978fc"/>
<path d="M626.01 429.78L627.08 430.14" stroke="#3b74fc"/>
<path d="M627.08 430.14L628.12 430.55" stroke="#3d71fd"/>
<path d="M628.12 430.55L629.15 431.01" stroke="#3f6dfd"/>
<path d="M629.15 431.01L630.15 431.51" stroke="#416afd"/>
<path d="M630.15 431.51L631.13 432.04" stroke="#4367fd"/>
<path d="M631.13 432.04L632.1 432.61" stroke="#4464fb"/>
<path d="M632.1 432.61L633.05 433.2" stroke="#4462f9"/>
<path d="M633.05 433.2L633.99 433.82" stroke="#455ff8"/>
<path d="M633.99 433.82L634.92 434.45" stroke="#465cf6"/>
<path d="M634.92 434.45L635.84 435.09" stroke="#465af5"/>
<path d="M635.84 435.09L636.76 435.74" stroke="#4758f3"/>
<path d="M636.76 435.74L637.67 436.39" stroke="#4755f1"/>
<path d="M637.67 436.39L638.57 437.05" stroke="#4853f0"/>
<path d="M638.57 437.05L639.47 437.71" stroke="#4851ed"/>
<path d="M639.47 437.71L640.37 438.37" stroke="#484feb"/>
<path d="M640.37 438.37L641.28 439.04" stroke="#484ee9"/>
<path d="M641.28 439.04L642.18 439.7" stroke="#484ce8"/>
<path d="M642.18 439.7L643.09 440.35" stroke="#484be6"/>
<path d="M643.09 440.35L644 441" stroke="#474ae5"/>
</g>
<rect x="452.5" y="270.6" width="189.3" height="207.9" fill="none" stroke="#404040" stroke-width="1.1"/>
<g stroke="#222" stroke-width="1.1" stroke-dasharray="1.6 1.7" fill="none">
<line x1="490.4" y1="390.5" x2="549" y2="390.5"/>
<line x1="546" y1="428.8" x2="614" y2="428.8"/>
<line x1="513.1" y1="325.5" x2="548.8" y2="346"/>
</g>
<line x1="543.9" y1="347" x2="543.9" y2="383.3" stroke="#f2642c" stroke-width="1.5" stroke-dasharray="5 1.6"/>
<polygon points="543.9,390.3 539.5,382.8 548.3,382.8" fill="#f2642c"/>
<line x1="550.6" y1="347" x2="550.6" y2="398" stroke="#f2642c" stroke-width="1.5" stroke-dasharray="5 1.6"/>
<line x1="550.6" y1="397" x2="550.6" y2="421.2" stroke="#f2642c" stroke-width="1.5"/>
<polygon points="550.6,428.7 546.1,420.7 555.1,420.7" fill="#f2642c"/>
<path d="M540.4 346.3L540 345.53L539.45 344.91L538.77 344.43L537.99 344.1L537.13 343.9L536.22 343.82L535.29 343.86L534.37 344.02L533.47 344.27L532.63 344.63L531.87 345.07L531.21 345.6L530.69 346.2L530.33 346.87L530.15 347.6L530.19 348.39L530.46 349.22" fill="none" stroke="#f2642c" stroke-width="1.0" stroke-linejoin="round"/>
<polygon points="530.8,351.8 528.41,348.28 532.18,347.78" fill="#f2642c"/>
<path d="M530.6 350L529.98 349.74L529.31 349.59L528.59 349.54L527.85 349.6L527.1 349.74L526.35 349.97L525.63 350.28L524.94 350.66L524.31 351.11L523.75 351.61L523.28 352.16L522.91 352.76L522.65 353.39L522.54 354.05L522.57 354.74L522.77 355.45L523.15 356.16" fill="none" stroke="#f2642c" stroke-width="1.0" stroke-linejoin="round"/>
<polygon points="523.7,358.7 521.04,355.39 524.76,354.58" fill="#f2642c"/>
<path d="M523.6 356.6L523.14 356.56L522.61 356.6L522.04 356.69L521.43 356.85L520.81 357.07L520.18 357.33L519.57 357.65L518.97 358.01L518.42 358.4L517.92 358.84L517.48 359.31L517.13 359.81L516.87 360.33L516.73 360.88L516.71 361.44L516.82 362.01L517.09 362.6" fill="none" stroke="#f2642c" stroke-width="1.0" stroke-linejoin="round"/>
<polygon points="517.8,365.1 514.94,361.96 518.6,360.93" fill="#f2642c"/>
<path d="M517.6 363.5L517.08 363.4L516.53 363.39L515.95 363.46L515.36 363.61L514.77 363.82L514.19 364.1L513.63 364.44L513.1 364.83L512.62 365.26L512.2 365.73L511.84 366.23L511.57 366.76L511.38 367.3L511.3 367.86L511.34 368.42L511.5 368.98L511.8 369.53" fill="none" stroke="#f2642c" stroke-width="1.0" stroke-linejoin="round"/>
<polygon points="512.6,372 509.62,368.97 513.23,367.8" fill="#f2642c"/>
<path d="M512.4 370.6L512.01 370.63L511.54 370.71L511.03 370.85L510.48 371.03L509.91 371.26L509.32 371.54L508.75 371.85L508.19 372.2L507.67 372.58L507.2 373L506.8 373.43L506.47 373.9L506.24 374.38L506.12 374.88L506.11 375.39L506.25 375.92L506.54 376.45" fill="none" stroke="#f2642c" stroke-width="1.0" stroke-linejoin="round"/>
<polygon points="507.4,378.9 504.35,375.94 507.93,374.69" fill="#f2642c"/>
<text y="323.3" font-size="14.8" font-family='"Liberation Sans", Arial, Helvetica, sans-serif'><tspan x="478.8">&lt;S</tspan><tspan x="498.2" font-size="8.6" stroke="none">z</tspan><tspan x="502.4">&gt;</tspan><tspan x="513.7">=</tspan><tspan x="525.6">0.4</tspan></text>
<text x="596.6" y="289.8" font-size="15.4" font-family='"Liberation Sans", Arial, Helvetica, sans-serif'>CB+2<tspan font-size="7.5" dy="-5.4" dx="0.3" stroke="none">+</tspan></text>
<text x="558.8" y="348.9" font-size="15.4" font-family='"Liberation Sans", Arial, Helvetica, sans-serif'>CB+2<tspan font-size="7.5" dy="-5.4" dx="0.3" stroke="none">-</tspan></text>
<text x="487.6" y="405.8" font-size="15.0" text-anchor="start" font-family='"Liberation Sans", Arial, Helvetica, sans-serif'>115 meV</text>
<text x="552.4" y="443.8" font-size="15.0" text-anchor="start" font-family='"Liberation Sans", Arial, Helvetica, sans-serif'>212 meV</text>
<text x="645.3" y="283.3" font-size="15.6" font-family='"Liberation Sans", Arial, Helvetica, sans-serif'>&lt;S<tspan font-size="10" dy="3.6">z</tspan><tspan dy="-3.6">&gt;</tspan></text>
<rect x="645.6" y="299" width="10.8" height="174.4" fill="url(#cbar)" stroke="#8a8a8a" stroke-width="0.9"/>
<line x1="656.4" y1="299.2" x2="659.6" y2="299.2" stroke="#555" stroke-width="0.9"/>
<line x1="656.4" y1="386.2" x2="659.6" y2="386.2" stroke="#555" stroke-width="0.9"/>
<line x1="656.4" y1="473.2" x2="659.6" y2="473.2" stroke="#555" stroke-width="0.9"/>
<text x="659.9" y="304.2" font-size="15.2" text-anchor="start" font-family='"Liberation Sans", Arial, Helvetica, sans-serif'>0.5</text>
<text x="659.9" y="391.2" font-size="15.2" text-anchor="start" font-family='"Liberation Sans", Arial, Helvetica, sans-serif'>0.0</text>
<text x="659.4" y="478" font-size="15.2" text-anchor="start" font-family='"Liberation Sans", Arial, Helvetica, sans-serif'>-0.5</text>
<line x1="450" y1="487.7" x2="541" y2="487.7" stroke="#404040" stroke-width="1"/>
<line x1="554.5" y1="487.7" x2="646" y2="487.7" stroke="#404040" stroke-width="1"/>
<polygon points="447.4,487.7 453.6,484.7 453.6,490.7" fill="#111"/>
<polygon points="649.4,487.7 643.2,484.7 643.2,490.7" fill="#111"/>
<text x="440" y="492.6" font-size="14.8" text-anchor="middle" font-family='"Liberation Sans", Arial, Helvetica, sans-serif'>M</text>
<text x="547.8" y="492.6" font-size="14.8" text-anchor="middle" font-family='"Liberation Sans", Arial, Helvetica, sans-serif'>K</text>
<text x="655.2" y="492.4" font-size="14.5" text-anchor="middle" font-family='"Liberation Serif", "Times New Roman", serif' stroke="none">Γ</text>
<text x="547.5" y="504.6" font-size="15.8" text-anchor="middle" font-family='"Liberation Sans", Arial, Helvetica, sans-serif'>Momentum</text>
</svg>
</body></html>
